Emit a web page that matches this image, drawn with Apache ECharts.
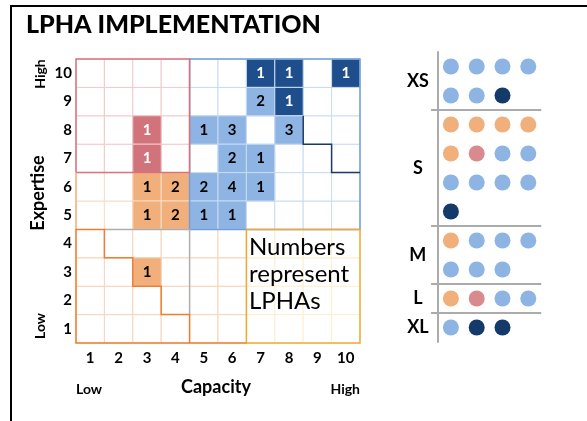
<!DOCTYPE html>
<html>
<head>
<meta charset="utf-8">
<script src="https://cdn.jsdelivr.net/npm/echarts@6/dist/echarts.min.js"></script>
<style>
html,body{margin:0;padding:0;background:#fff;}
#chart{width:587px;height:421px;}
</style>
</head>
<body>
<div id="chart"></div>
<script>
// ---- data ----
var capacityLabels = ['1','2','3','4','5','6','7','8','9','10'];
var expertiseLabels = ['1','2','3','4','5','6','7','8','9','10'];
var cellCapacity = [7,8,10,7,8,3,5,6,8,3,6,7,3,4,5,6,7,3,4,5,6,3];
var cellExpertise = [10,10,10,9,9,8,8,8,8,7,7,7,6,6,6,6,6,5,5,5,5,3];
var cellCount = [1,1,1,2,1,1,1,3,3,1,2,1,1,2,2,4,1,1,2,1,1,1];
var cellKind = ['dark','dark','dark','light','dark','red','light','light','light','red','light','light','orange','orange','light','light','light','orange','orange','light','light','orange'];

var sizeGroups = ['XS','S','M','L','XL'];
var groupRows = [2,4,2,1,1];
var dotsXS = ['light','light','light','light','light','light','dark'];
var dotsS = ['orange','orange','orange','orange','orange','red','light','light','light','light','light','light','dark'];
var dotsM = ['orange','light','light','light','light','light','light'];
var dotsL = ['orange','red','light','light'];
var dotsXL = ['light','dark','dark'];

// region outlines (in cell-boundary units)
var outlineRed = [[0,6],[0,10],[4,10],[4,6],[0,6]];
var outlineBlue = [[4,4],[4,10],[10,10],[10,4],[4,4]];
var outlineGrey = [[1,4],[4,4],[4,1]];
var outlineOrangeLeft = [[0,6],[0,4]];
var outlineOrange = [[6,0],[0,0],[0,4],[1,4],[1,3],[2,3],[2,2],[3,2],[3,1],[4,1],[4,0]];
var outlineGold = [[6,4],[10,4],[10,0],[6,0],[6,4]];
var outlineNavy = [[8,8],[8,7],[9,7],[9,6],[10,6]];

// ---- styles ----
var cellColors = {dark:'#1F4E8D', light:'#8DB4E3', red:'#D0737A', orange:'#F0AF7B'};
var dotColors = {dark:'#143A6A', light:'#8DB4E3', red:'#D98A8F', orange:'#F0AF7B'};
var FONT = 'Lato';

function innerColor(cx, cy){
  if (cy >= 7 && cx <= 4) return '#F3C9CC';
  if (cy >= 5 && cx <= 4) return '#FBDCC6';
  if (cy >= 5) return '#C9DCF3';
  if (cx <= 6) return '#F9D3B8';
  return '#FCEFCF';
}

var bgData = [];
for (var i = 0; i < 10; i++) for (var j = 0; j < 10; j++) bgData.push([i, j]);

var cellData = cellCapacity.map(function(c, k){
  return [c - 1, cellExpertise[k] - 1, cellCount[k], cellKind[k]];
});

var outlines = [
  {pts: outlineBlue, color: '#6F9FDA', w: 1.5},
  {pts: outlineRed, color: '#D8737B', w: 1.5},
  {pts: outlineOrangeLeft, color: '#F4B183', w: 1.5},
  {pts: outlineGrey, color: '#AEAEAE', w: 1.5},
  {pts: outlineGold, color: '#F0A934', w: 1.5},
  {pts: outlineOrange, color: '#ED7D31', w: 1.5},
  {pts: outlineNavy, color: '#1F3864', w: 1.5}
];

// dots
var dotGroupsData = [dotsXS, dotsS, dotsM, dotsL, dotsXL];
var dotData = [];
var rowOffset = 0;
var groupCenters = [];
dotGroupsData.forEach(function(g, gi){
  g.forEach(function(kind, k){
    dotData.push({value:[(k % 4) + 1, rowOffset + Math.floor(k / 4) + 1], itemStyle:{color: dotColors[kind], opacity:1}});
  });
  groupCenters.push(rowOffset + (groupRows[gi] + 1) / 2);
  rowOffset += groupRows[gi];
});
var separators = [];
var acc = 0;
for (var s = 0; s < groupRows.length - 1; s++){ acc += groupRows[s]; separators.push(acc + 0.5); }

var chart = echarts.init(document.getElementById('chart'), null, {renderer:'canvas'});

function cellGeom(api){
  var base = api.coord([0, 0]);
  var sz = api.size([1, 1]);
  return {x0: base[0] - sz[0] / 2, y0: base[1] + sz[1] / 2, w: sz[0], h: sz[1]};
}

var option = {
  animation: false,
  backgroundColor: '#fff',
  title: {
    text: 'LPHA IMPLEMENTATION', left: 26, top: 12, padding: 0,
    textStyle: {fontFamily: FONT, fontWeight: 900, fontSize: 25, color: '#000'}
  },
  grid: [
    {left: 76, top: 59, width: 284, height: 284},
    {left: 438, top: 52, width: 103.2, height: 290}
  ],
  xAxis: [
    {type:'category', gridIndex:0, data: capacityLabels,
     axisLine:{show:false}, axisTick:{show:false}, splitLine:{show:false},
     axisLabel:{fontFamily:FONT, fontWeight:'bold', fontSize:15, color:'#000', margin:8}},
    {type:'value', gridIndex:1, min:0.5, max:4.5, show:false}
  ],
  yAxis: [
    {type:'category', gridIndex:0, data: expertiseLabels,
     axisLine:{show:false}, axisTick:{show:false}, splitLine:{show:false},
     axisLabel:{fontFamily:FONT, fontWeight:'bold', fontSize:15, color:'#000', margin:4}},
    {type:'value', gridIndex:1, min:0.5, max:10.5, inverse:true,
     axisLine:{show:true, lineStyle:{color:'#ABABAB', width:2}}, axisTick:{show:false},
     axisLabel:{show:false}, splitLine:{show:false}}
  ],
  graphic: [
    {type:'rect', shape:{x:11, y:6, width:700, height:500}, style:{fill:'none', stroke:'#000', lineWidth:2}, z:100},
    {type:'text', x:216, y:387, style:{text:'Capacity', fontFamily:FONT, fontWeight:'bold', fontSize:18, fill:'#000', textAlign:'center', textVerticalAlign:'middle'}},
    {type:'text', x:76, y:389, style:{text:'Low', fontFamily:FONT, fontWeight:'bold', fontSize:14, fill:'#000', textAlign:'left', textVerticalAlign:'middle'}},
    {type:'text', x:360, y:389, style:{text:'High', fontFamily:FONT, fontWeight:'bold', fontSize:14, fill:'#000', textAlign:'right', textVerticalAlign:'middle'}},
    {type:'text', x:38.5, y:193, rotation:Math.PI/2, style:{text:'Expertise', fontFamily:FONT, fontWeight:'bold', fontSize:18, fill:'#000', textAlign:'center', textVerticalAlign:'middle'}},
    {type:'text', x:40, y:74, rotation:Math.PI/2, style:{text:'High', fontFamily:FONT, fontWeight:'bold', fontSize:14, fill:'#000', textAlign:'center', textVerticalAlign:'middle'}},
    {type:'text', x:40, y:326, rotation:Math.PI/2, style:{text:'Low', fontFamily:FONT, fontWeight:'bold', fontSize:14, fill:'#000', textAlign:'center', textVerticalAlign:'middle'}},
    {type:'text', x:249, y:234, style:{text:'Numbers\nrepresent\nLPHAs', fontFamily:FONT, fontSize:24, lineHeight:27, fill:'#000', textAlign:'left', textVerticalAlign:'top'}, z:50}
  ],
  series: [
    {
      type:'custom', xAxisIndex:0, yAxisIndex:0, data: bgData, z:1, silent:true,
      renderItem: function(params, api){
        var c = api.coord([api.value(0), api.value(1)]);
        var sz = api.size([1,1]);
        return {type:'rect', shape:{x:c[0]-sz[0]/2, y:c[1]-sz[1]/2, width:sz[0], height:sz[1]},
          style:{fill:'#fff', stroke: innerColor(api.value(0)+1, api.value(1)+1), lineWidth:1}};
      }
    },
    {
      type:'custom', xAxisIndex:0, yAxisIndex:0, data: cellData, z:2, silent:true,
      dimensions:['x','y','n','kind'],
      renderItem: function(params, api){
        var d = cellData[params.dataIndex];
        var c = api.coord([d[0], d[1]]);
        var sz = api.size([1,1]);
        var kind = d[3];
        var txtCol = (kind === 'dark' || kind === 'red') ? '#fff' : '#000';
        return {type:'group', children:[
          {type:'rect', shape:{x:c[0]-sz[0]/2, y:c[1]-sz[1]/2, width:sz[0], height:sz[1]},
           style:{fill: cellColors[kind], stroke: innerColor(d[0]+1, d[1]+1), lineWidth:1}},
          {type:'text', x:c[0], y:c[1], style:{text:String(d[2]), fontFamily:FONT, fontWeight:'bold', fontSize:15, fill:txtCol, textAlign:'center', textVerticalAlign:'middle'}}
        ]};
      }
    },
    {
      type:'custom', xAxisIndex:0, yAxisIndex:0, data: outlines.map(function(){return [0,0];}), z:3, silent:true,
      renderItem: function(params, api){
        var o = outlines[params.dataIndex];
        var g = cellGeom(api);
        var pts = o.pts.map(function(p){ return [g.x0 + p[0]*g.w, g.y0 - p[1]*g.h]; });
        return {type:'polyline', shape:{points: pts}, style:{fill:'none', stroke:o.color, lineWidth:o.w, lineJoin:'miter'}};
      }
    },
    {
      type:'scatter', xAxisIndex:1, yAxisIndex:1, data: dotData, symbolSize:16, z:5, silent:true,
      itemStyle:{opacity:1}
    },
    {
      type:'custom', xAxisIndex:1, yAxisIndex:1, data: separators.map(function(v){return [0, v];}), z:4, silent:true,
      renderItem: function(params, api){
        var a = api.coord([0.23, api.value(1)]);
        var b = api.coord([4.5, api.value(1)]);
        return {type:'line', shape:{x1:a[0], y1:a[1], x2:b[0], y2:b[1]}, style:{stroke:'#ABABAB', lineWidth:2}};
      }
    },
    {
      type:'custom', xAxisIndex:1, yAxisIndex:1, data: groupCenters.map(function(v){return [0, v];}), z:4, silent:true,
      renderItem: function(params, api){
        var p = api.coord([-0.28, api.value(1)]);
        return {type:'text', x:p[0], y:p[1], style:{text: sizeGroups[params.dataIndex], fontFamily:FONT, fontWeight:'bold', fontSize:18, fill:'#000', textAlign:'center', textVerticalAlign:'middle'}};
      }
    }
  ]
};
chart.setOption(option);
</script>
</body>
</html>
